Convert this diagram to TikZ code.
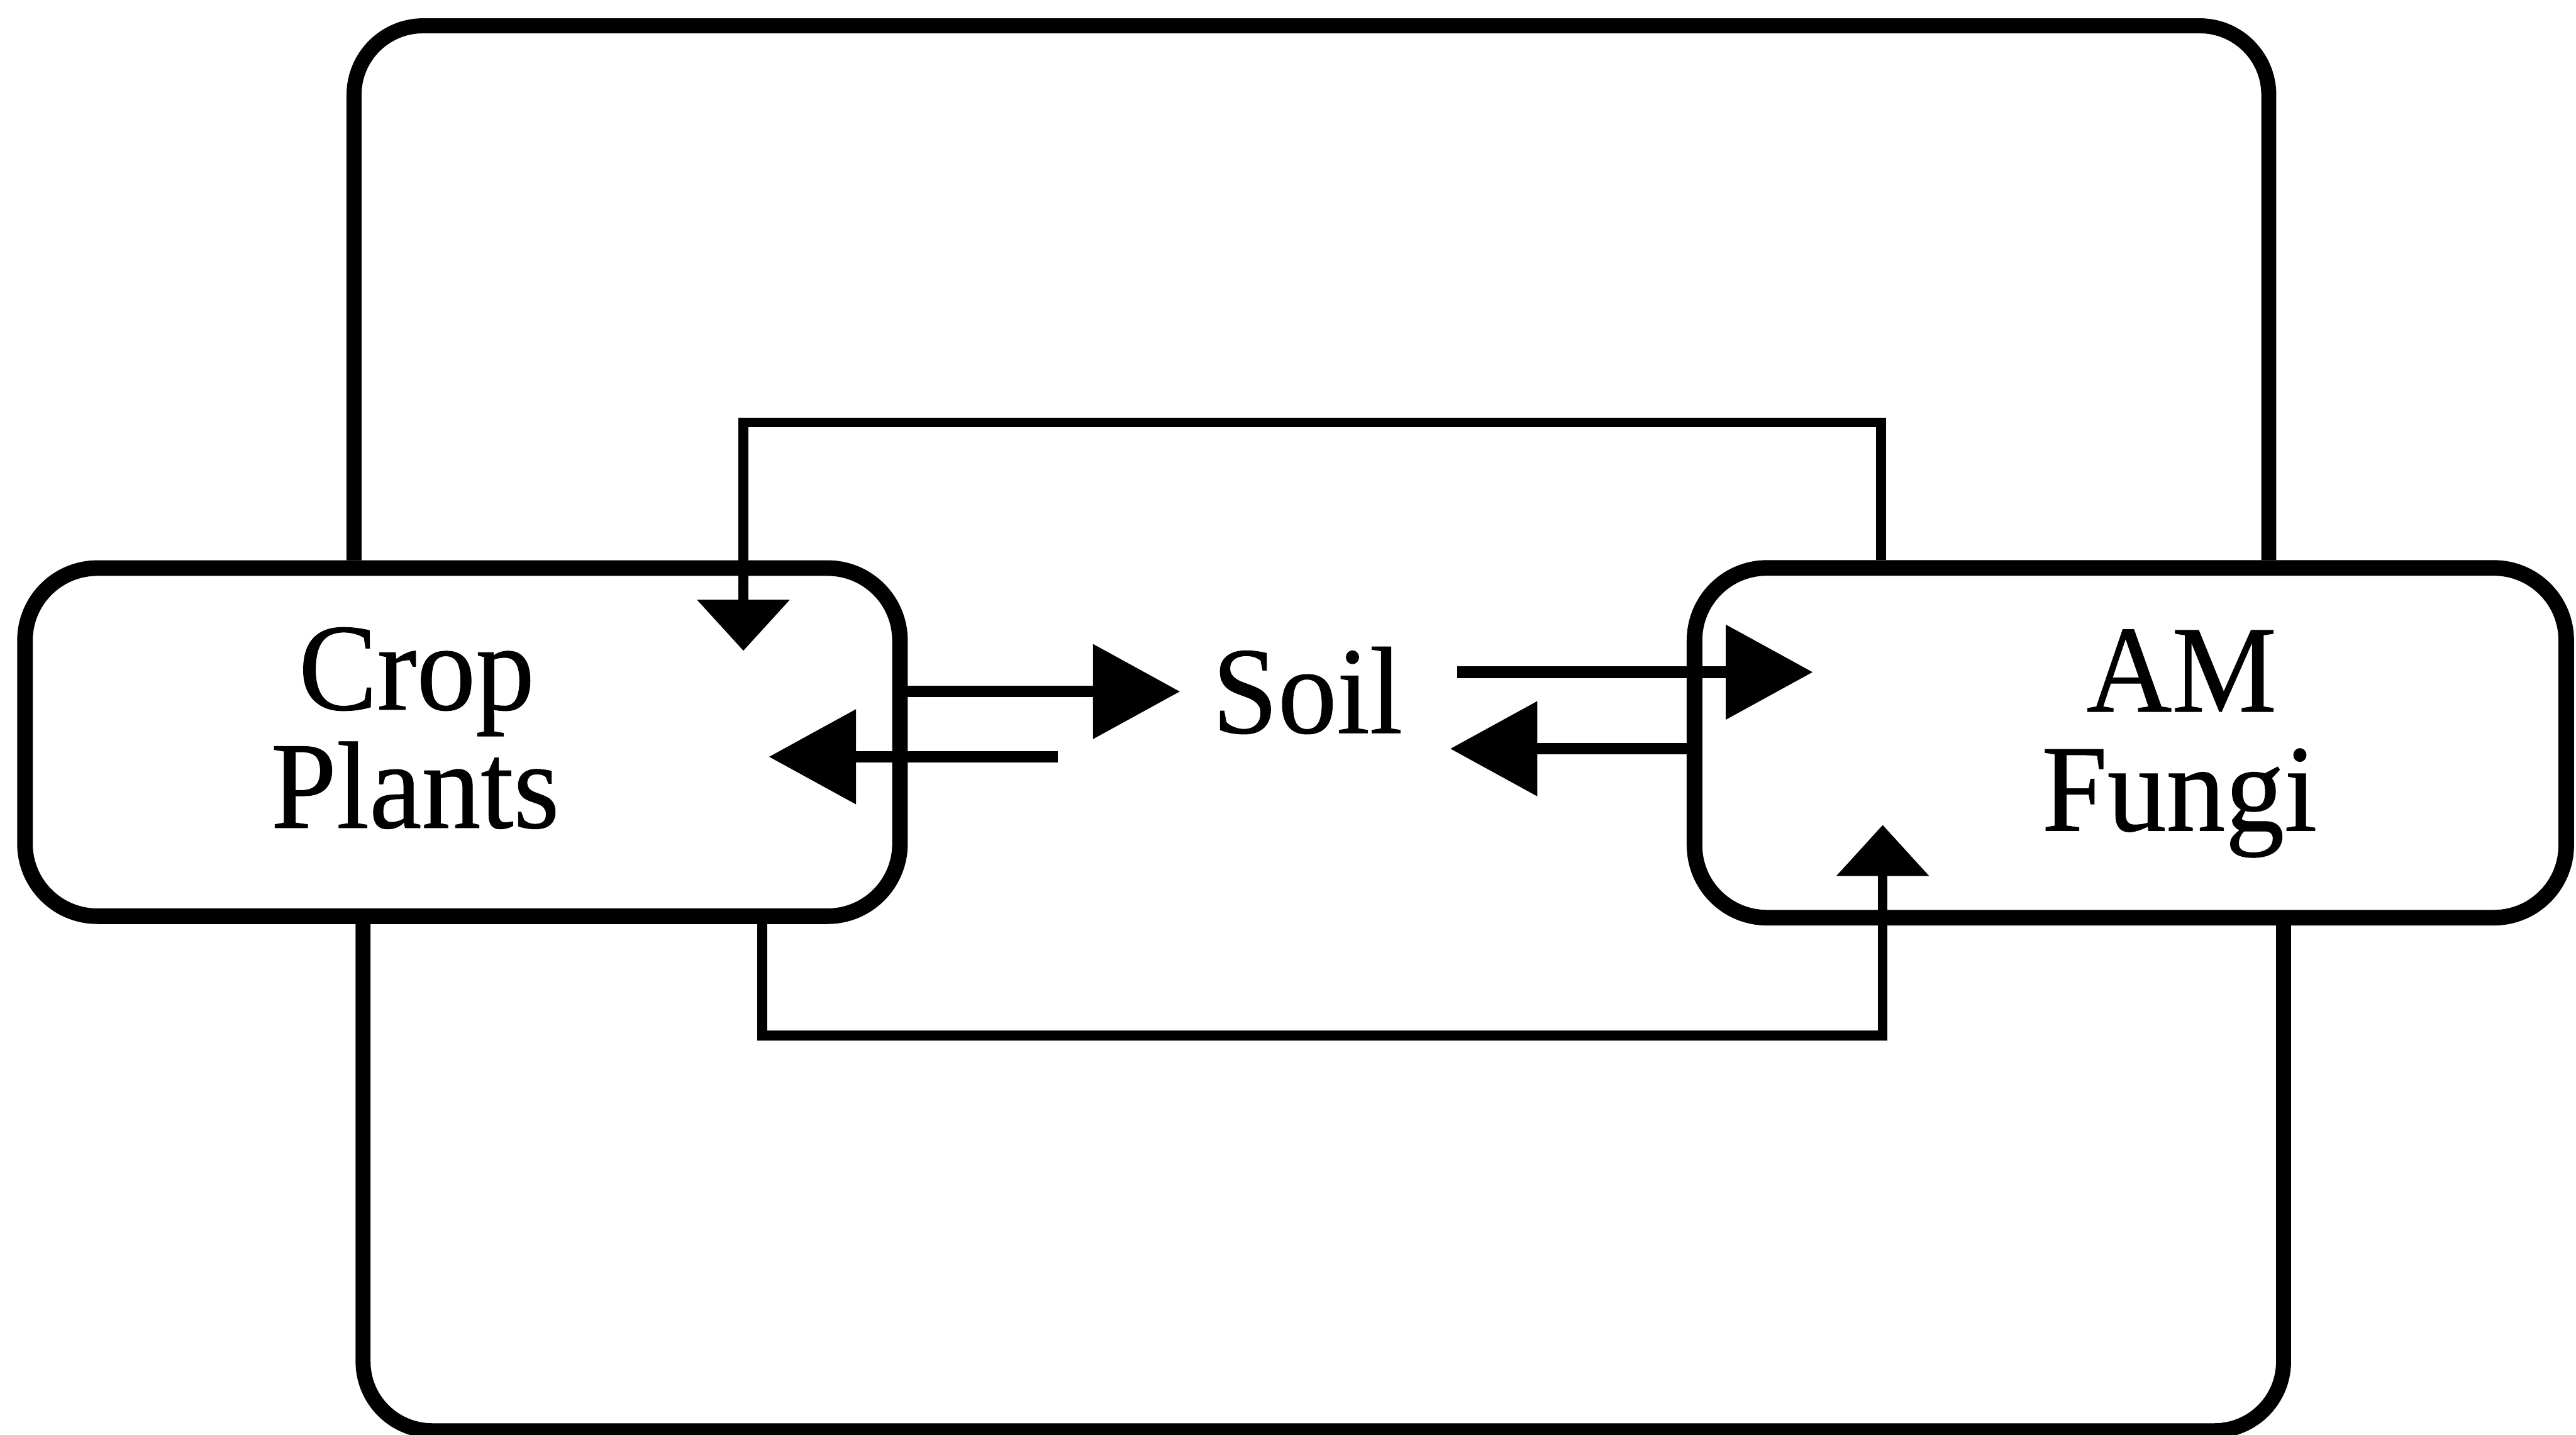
\documentclass[tikz,border=0pt]{standalone}
\usepackage{fontspec}
\setmainfont{Liberation Serif}
\newfontfamily\lblfont{Liberation Serif}[FakeBold=0.5, FakeStretch=0.95]
\usetikzlibrary{arrows.meta}
\begin{document}
\begin{tikzpicture}[x=0.01cm,y=-0.01cm,
  box/.style={draw, line width=2.7pt, rounded corners=0.44cm, rectangle, inner sep=0pt},
  lbl/.style={anchor=base, inner sep=0pt, font=\fontsize{21.5}{21.5}\lblfont},
  bigloop/.style={line width=2.6pt, rounded corners=0.42cm},
  feed/.style={line width=1.7pt, -{Triangle[length=0.31cm,width=0.55cm]}},
  arr/.style={line width=2pt, -{Triangle[length=0.53cm,width=0.56cm]}}]
\useasboundingbox (0,0) rectangle (1568,873);
% boxes
\node[box, minimum width=5.323cm, minimum height=2.117cm] (crop) at (281.5,451.6) {};
\node[box, minimum width=5.303cm, minimum height=2.127cm] (am) at (1296.75,452) {};
% labels
\node[lbl] (crop1) at (253.6,431.8) {Crop};
\node[lbl] (crop2) at (252.7,503.7) {Plants};
\node[lbl] (am1) at (1328,433) {AM};
\node[lbl] (am2) at (1326.6,505.5) {Fungi};
\node[lbl] (soil) at (795.8,446) {Soil};
% coordinates
\coordinate (o1) at (215.5,15.7);
\coordinate (o2) at (1381,15.7);
\coordinate (u1) at (221,870.6);
\coordinate (u2) at (1390,870.6);
\coordinate (t1) at (1145,257);
\coordinate (t2) at (452.5,257);
\coordinate (t3) at (452.5,396);
\coordinate (b1) at (464,630);
\coordinate (b2) at (1146,630);
\coordinate (b3) at (1146,502);
\coordinate (r1) at (718.3,420.8);
\coordinate (l1s) at (643.7,460.5);
\coordinate (l1t) at (468,460.5);
\coordinate (r2s) at (887,409);
\coordinate (r2t) at (1103.5,409);
\coordinate (l2t) at (882.7,455.6);
% outer loops
\draw[bigloop] (crop.north -| o1) -- (o1) -- (o2) -- (am.north -| o2);
\draw[bigloop] (crop.south -| u1) -- (u1) -- (u2) -- (am.south -| u2);
% inner loops
\draw[feed] (am.north -| t1) -- (t1) -- (t2) -- (t3);
\draw[feed] (crop.south -| b1) -- (b1) -- (b2) -- (b3);
% horizontal arrows
\draw[arr] (crop.east |- r1) -- (r1);
\draw[arr] (l1s) -- (l1t);
\draw[arr] (r2s) -- (r2t);
\draw[arr] (am.west |- l2t) -- (l2t);
\end{tikzpicture}
\end{document}
